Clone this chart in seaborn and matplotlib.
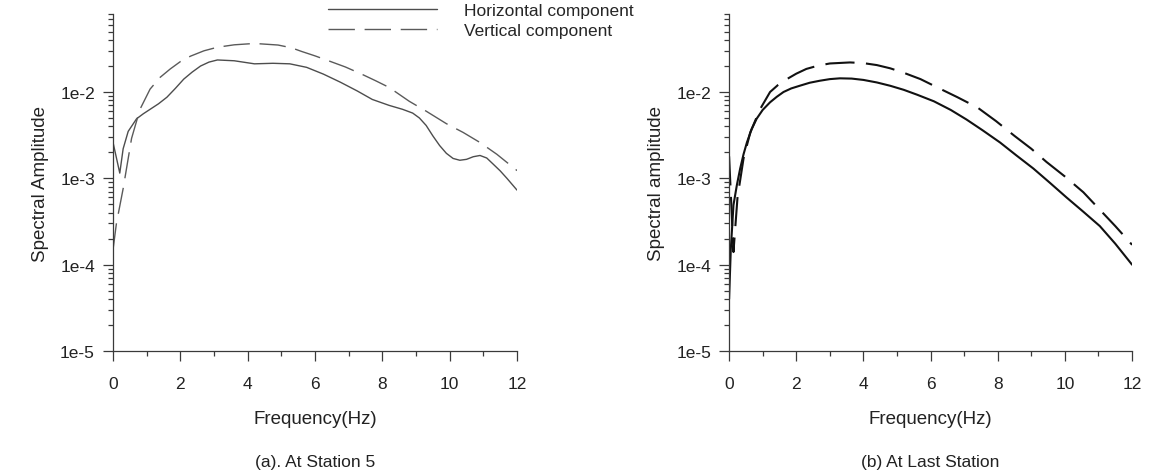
import matplotlib
matplotlib.use("Agg")
import matplotlib.pyplot as plt
from matplotlib.ticker import FixedLocator, FixedFormatter, MultipleLocator, LogLocator, NullFormatter
import pandas as pd
import seaborn as sns

# Station 5: horizontal and vertical spectral amplitudes
st5_h_freq = [0.0, 0.2, 0.3, 0.45, 0.7, 0.9, 1.1, 1.35, 1.6, 1.85, 2.1, 2.35, 2.6,
              2.85, 3.1, 3.6, 4.2, 4.75, 5.25, 5.75, 6.25, 6.75, 7.25, 7.7, 8.2,
              8.6, 8.9, 9.1, 9.3, 9.5, 9.7, 9.9, 10.1, 10.3, 10.5, 10.7, 10.9,
              11.1, 11.3, 11.5, 11.7, 12.0]
st5_h_amp = [2.6e-3, 1.15e-3, 2.2e-3, 3.5e-3, 4.9e-3, 5.6e-3, 6.3e-3, 7.3e-3, 8.7e-3,
             1.1e-2, 1.41e-2, 1.7e-2, 2.0e-2, 2.22e-2, 2.35e-2, 2.3e-2, 2.12e-2,
             2.15e-2, 2.12e-2, 1.93e-2, 1.61e-2, 1.3e-2, 1.03e-2, 8.2e-3, 7.0e-3,
             6.3e-3, 5.7e-3, 5.0e-3, 4.1e-3, 3.1e-3, 2.4e-3, 1.95e-3, 1.7e-3,
             1.62e-3, 1.66e-3, 1.78e-3, 1.84e-3, 1.72e-3, 1.45e-3, 1.22e-3, 1.0e-3,
             7.3e-4]
st5_v_freq = [0.0, 0.1, 0.3, 0.55, 0.8, 1.1, 1.4, 1.7, 2.0, 2.3, 2.7, 3.1, 3.6, 4.2,
              4.9, 5.3, 5.6, 6.0, 6.4, 6.9, 7.4, 7.8, 8.2, 8.8, 9.3, 9.9, 10.4,
              10.9, 11.4, 12.0]
st5_v_amp = [1.5e-4, 3.0e-4, 7.6e-4, 2.9e-3, 6.3e-3, 1.08e-2, 1.48e-2, 1.85e-2,
             2.25e-2, 2.6e-2, 3.0e-2, 3.3e-2, 3.52e-2, 3.65e-2, 3.5e-2, 3.25e-2,
             2.95e-2, 2.62e-2, 2.3e-2, 1.95e-2, 1.6e-2, 1.35e-2, 1.13e-2, 7.8e-3,
             6.0e-3, 4.3e-3, 3.4e-3, 2.6e-3, 1.9e-3, 1.23e-3]

# Last station
last_h_freq = [0.0, 0.05, 0.13, 0.23, 0.33, 0.43, 0.53, 0.67, 0.82, 1.0, 1.22, 1.42,
               1.62, 1.85, 2.1, 2.4, 2.7, 3.0, 3.3, 3.65, 4.0, 4.4, 4.8, 5.2, 5.6,
               6.1, 6.6, 7.07, 7.55, 8.07, 8.55, 9.06, 9.55, 10.05, 10.55, 11.04,
               11.5, 12.0]
last_h_amp = [4e-5, 1.5e-4, 4.9e-4, 8.3e-4, 1.3e-3, 1.9e-3, 2.6e-3, 3.7e-3, 4.9e-3,
              6.2e-3, 7.6e-3, 8.8e-3, 1.0e-2, 1.1e-2, 1.18e-2, 1.28e-2, 1.35e-2,
              1.41e-2, 1.44e-2, 1.43e-2, 1.38e-2, 1.29e-2, 1.18e-2, 1.06e-2, 9.3e-3,
              7.8e-3, 6.2e-3, 4.8e-3, 3.6e-3, 2.6e-3, 1.85e-3, 1.3e-3, 8.9e-4,
              6.0e-4, 4.1e-4, 2.8e-4, 1.75e-4, 1.0e-4]
last_v_freq = [0.0, 0.13, 0.25, 0.43, 0.63, 0.92, 1.22, 1.45, 1.72, 2.0, 2.3, 2.65,
               3.0, 3.6, 4.0, 4.4, 4.8, 5.2, 5.7, 6.2, 6.8, 7.4, 7.95, 8.5, 9.0,
               9.45, 10.0, 10.55, 11.0, 11.5, 12.0]
last_v_amp = [1.8e-3, 1.4e-4, 6e-4, 1.7e-3, 3.4e-3, 6.3e-3, 1.0e-2, 1.2e-2, 1.41e-2,
              1.63e-2, 1.85e-2, 2.02e-2, 2.14e-2, 2.2e-2, 2.16e-2, 2.05e-2, 1.88e-2,
              1.67e-2, 1.41e-2, 1.13e-2, 8.7e-3, 6.6e-3, 4.6e-3, 3.1e-3, 2.2e-3,
              1.55e-3, 1.05e-3, 6.9e-4, 4.5e-4, 2.8e-4, 1.7e-4]

series_names = ["Horizontal component", "Vertical component"]
x_ticks = [0, 2, 4, 6, 8, 10, 12]
y_ticks = [1e-5, 1e-4, 1e-3, 1e-2]
y_tick_labels = ["1e-5", "1e-4", "1e-3", "1e-2"]
captions = ["(a). At Station 5", "(b) At Last Station"]
y_titles = ["Spectral Amplitude", "Spectral amplitude"]

sns.set_style("ticks")
plt.rcParams["font.family"] = ["Liberation Sans", "DejaVu Sans"]

fig = plt.figure(figsize=(11.5, 4.77), dpi=100)
ax_a = fig.add_axes([0.0983, 0.262, 0.3513, 0.7065])
ax_b = fig.add_axes([0.634, 0.262, 0.3504, 0.7065])

axis_col = "#3a3a3a"


def frame(freq_h, amp_h, freq_v, amp_v):
    dh = pd.DataFrame({"freq": freq_h, "amp": amp_h, "series": series_names[0]})
    dv = pd.DataFrame({"freq": freq_v, "amp": amp_v, "series": series_names[1]})
    return dh, dv


def style_axes(ax, ytitle, caption):
    ax.set_yscale("log")
    ax.set_xlim(0, 12)
    ax.set_ylim(1e-5, 0.08)
    ax.xaxis.set_major_locator(FixedLocator(x_ticks))
    ax.xaxis.set_minor_locator(MultipleLocator(1))
    ax.yaxis.set_major_locator(FixedLocator(y_ticks))
    ax.yaxis.set_major_formatter(FixedFormatter(y_tick_labels))
    ax.yaxis.set_minor_locator(LogLocator(base=10, subs=[2, 3, 4, 5, 6, 7, 8, 9]))
    ax.yaxis.set_minor_formatter(NullFormatter())
    for s in ("top", "right"):
        ax.spines[s].set_visible(False)
    for s in ("left", "bottom"):
        ax.spines[s].set_color(axis_col)
        ax.spines[s].set_linewidth(0.9)
    ax.tick_params(which="major", direction="out", length=7, width=0.9,
                   color=axis_col, labelsize=12.5, labelcolor="#222222")
    ax.tick_params(axis="x", which="major", pad=11)
    ax.tick_params(axis="y", which="major", pad=6)
    ax.tick_params(which="minor", direction="out", length=3.8, width=0.9,
                   color=axis_col)
    ax.set_xlabel("Frequency(Hz)", fontsize=13.5, color="#222222", labelpad=14)
    ax.set_ylabel(ytitle, fontsize=13.5, color="#222222", labelpad=8)
    pos = ax.get_position()
    fig.text(pos.x0 + pos.width / 2, 14 / 477, caption, ha="center", va="center",
             fontsize=12.5, color="#222222")


# Panel (a)
dh, dv = frame(st5_h_freq, st5_h_amp, st5_v_freq, st5_v_amp)
sns.lineplot(data=dh, x="freq", y="amp", ax=ax_a, color="#4d4d4d", lw=1.0,
             label=series_names[0], sort=False, estimator=None)
sns.lineplot(data=dv, x="freq", y="amp", ax=ax_a, color="#5a5a5a", lw=1.0,
             linestyle=(0, (19, 7)), label=series_names[1], sort=False, estimator=None)
style_axes(ax_a, y_titles[0], captions[0])
handles, labels = ax_a.get_legend_handles_labels()
ax_a.legend_.remove()
fig.legend(handles, labels, loc="upper left", bbox_to_anchor=(328 / 1150, 1 - 4 / 477),
           frameon=False, fontsize=12.5, handlelength=6.3, handletextpad=1.55,
           labelspacing=0.25, borderpad=0, borderaxespad=0)

# Panel (b)
dh, dv = frame(last_h_freq, last_h_amp, last_v_freq, last_v_amp)
sns.lineplot(data=dh, x="freq", y="amp", ax=ax_b, color="#111111", lw=1.5,
             sort=False, estimator=None)
sns.lineplot(data=dv, x="freq", y="amp", ax=ax_b, color="#111111", lw=1.5,
             linestyle=(0, (14, 5.5)), sort=False, estimator=None)
style_axes(ax_b, y_titles[1], captions[1])

fig.savefig("out.png", dpi=100, facecolor="white")
